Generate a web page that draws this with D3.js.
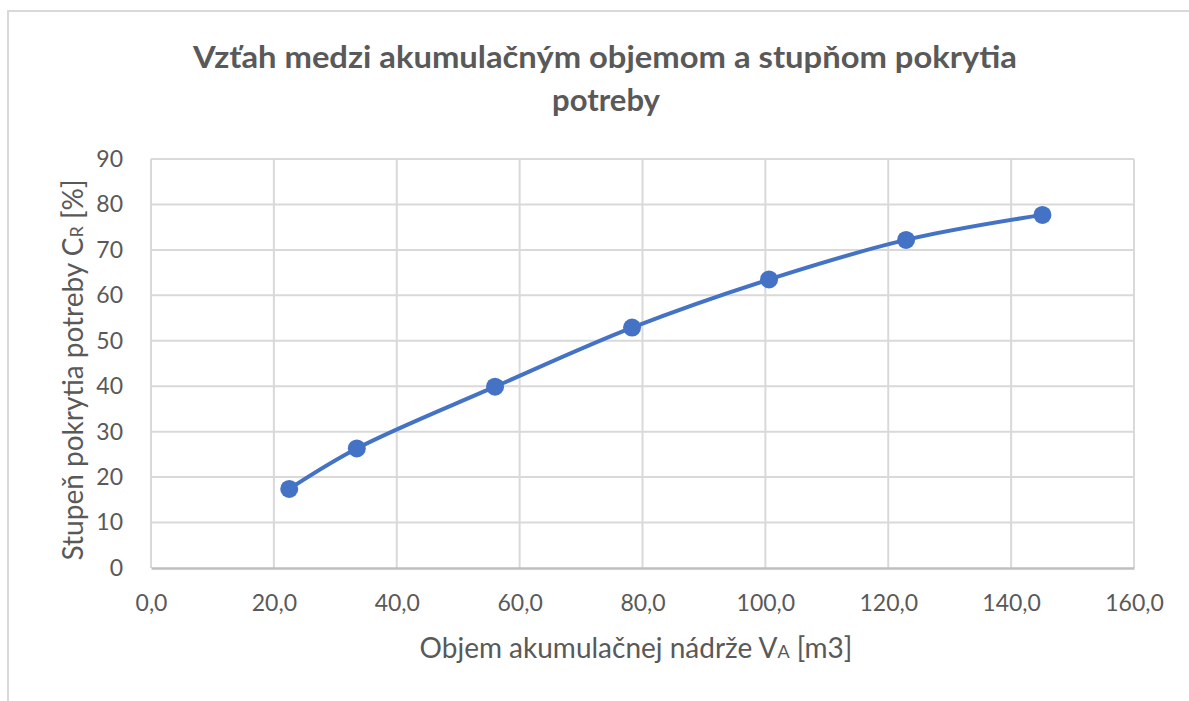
<!DOCTYPE html>
<html>
<head>
<meta charset="utf-8">
<script src="https://cdn.jsdelivr.net/npm/d3@7"></script>
<style>
  body { margin: 0; background: #fff; }
  svg text { font-family: Lato, "Open Sans", sans-serif; fill: #595959; }
</style>
</head>
<body>
<div id="vis"></div>
<script>
// data
var objem = [22.5, 33.5, 56.0, 78.3, 100.6, 122.9, 145.1];
var pokrytie = [17.4, 26.3, 39.9, 52.9, 63.5, 72.2, 77.7];
var xTicks = [0, 20, 40, 60, 80, 100, 120, 140, 160];
var yTicks = [0, 10, 20, 30, 40, 50, 60, 70, 80, 90];

var width = 1189, height = 701;
var margin = {top: 159, left: 151, bottom: 133, right: 55};
var chartWidth = width - margin.left - margin.right,
    chartHeight = height - margin.top - margin.bottom;

var svg = d3.select("#vis").append("svg")
    .attr("width", width)
    .attr("height", height);

// outer chart frame (only top and left visible)
svg.append("path")
    .attr("d", "M8,701 L8,11 L1189,11")
    .attr("fill", "none")
    .attr("stroke", "#d9d9d9")
    .attr("stroke-width", 2);

var x = d3.scaleLinear().domain([0, 160]).range([0, chartWidth]);
var y = d3.scaleLinear().domain([0, 90]).range([chartHeight, 0]);

var g = svg.append("g")
    .attr("transform", "translate(" + margin.left + "," + margin.top + ")");

// gridlines
g.append("g").selectAll("line").data(yTicks.slice(1)).enter().append("line")
    .attr("x1", 0).attr("x2", chartWidth)
    .attr("y1", function(d) { return y(d); })
    .attr("y2", function(d) { return y(d); })
    .attr("stroke", "#d9d9d9").attr("stroke-width", 2);
g.append("g").selectAll("line").data(xTicks).enter().append("line")
    .attr("y1", 0).attr("y2", chartHeight)
    .attr("x1", function(d) { return x(d); })
    .attr("x2", function(d) { return x(d); })
    .attr("stroke", "#d9d9d9").attr("stroke-width", 2);

// x axis
var xAxis = g.append("g")
    .attr("transform", "translate(0," + chartHeight + ")")
    .call(d3.axisBottom(x).tickValues(xTicks).tickSize(0).tickPadding(27)
        .tickFormat(function(d) { return d3.format(".1f")(d).replace(".", ","); }));
xAxis.select(".domain").attr("stroke", "#bfbfbf").attr("stroke-width", 2.5);
xAxis.selectAll("text").attr("font-size", "23px").attr("fill", "#595959")
    .style("font-family", "Lato, sans-serif");

// y axis
var yAxis = g.append("g")
    .call(d3.axisLeft(y).tickValues(yTicks).tickSize(0).tickPadding(28));
yAxis.select(".domain").remove();
yAxis.selectAll("text").attr("font-size", "23px").attr("fill", "#595959")
    .style("font-family", "Lato, sans-serif");

// the series
var line = d3.line()
    .x(function(d, i) { return x(objem[i]); })
    .y(function(d) { return y(d); })
    .curve(d3.curveCatmullRom.alpha(0.5));

g.append("path")
    .datum(pokrytie)
    .attr("d", line)
    .attr("fill", "none")
    .attr("stroke", "#4472C4")
    .attr("stroke-width", 4)
    .attr("stroke-linecap", "round");

g.selectAll(".dot").data(pokrytie).enter().append("circle")
    .attr("class", "dot")
    .attr("cx", function(d, i) { return x(objem[i]); })
    .attr("cy", function(d) { return y(d); })
    .attr("r", 9)
    .attr("fill", "#4472C4");

// title
var title = svg.append("text")
    .attr("text-anchor", "middle")
    .attr("font-size", "31px")
    .attr("font-weight", "bold");
title.append("tspan").attr("x", 605).attr("y", 68)
    .attr("textLength", 824).attr("lengthAdjust", "spacingAndGlyphs")
    .text("Vzťah medzi akumulačným objemom a stupňom pokrytia");
title.append("tspan").attr("x", 606).attr("y", 111)
    .text("potreby");

// axis titles
var xt = svg.append("text")
    .attr("text-anchor", "middle")
    .attr("x", 636)
    .attr("y", 658)
    .attr("font-size", "28px");
xt.append("tspan").text("Objem akumulačnej nádrže V");
xt.append("tspan").attr("font-size", "18px").text("A");
xt.append("tspan").text(" [m3]");

var yt = svg.append("text")
    .attr("text-anchor", "middle")
    .attr("transform", "translate(83,370) rotate(-90)")
    .attr("font-size", "28px");
yt.append("tspan").text("Stupeň pokrytia potreby C");
yt.append("tspan").attr("font-size", "18px").text("R");
yt.append("tspan").text(" [%]");
</script>
</body>
</html>
